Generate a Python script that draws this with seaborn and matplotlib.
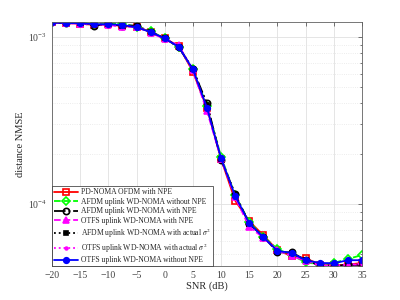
import numpy as np
import pandas as pd
import matplotlib
matplotlib.use('Agg')
import matplotlib.pyplot as plt
import seaborn as sns
from matplotlib.ticker import LogLocator, NullFormatter

# SNR 축 (dB)
snr = [-20, -17.5, -15, -12.5, -10, -7.5, -5, -2.5, 0, 2.5, 5, 7.5, 10,
       12.5, 15, 17.5, 20, 22.5, 25, 27.5, 30, 32.5, 35]

# 각 방식별 NMSE
pd_noma_npe = [1.22e-3, 1.21e-3, 1.20e-3, 1.18e-3, 1.19e-3, 1.16e-3, 1.15e-3, 1.07e-3, 0.98e-3,
               0.88e-3, 0.62e-3, 3.75e-4, 1.86e-4, 1.05e-4, 7.9e-5, 6.5e-5, 5.3e-5, 4.9e-5,
               4.75e-5, 4.35e-5, 4.3e-5, 4.35e-5, 4.45e-5]
afdm_wo_npe = [1.23e-3, 1.22e-3, 1.21e-3, 1.20e-3, 1.20e-3, 1.20e-3, 1.15e-3, 1.08e-3, 0.98e-3,
               0.87e-3, 0.64e-3, 3.85e-4, 1.92e-4, 1.13e-4, 7.8e-5, 6.4e-5, 5.38e-5, 4.95e-5,
               4.5e-5, 4.35e-5, 4.45e-5, 4.7e-5, 4.96e-5]
afdm_npe = [1.22e-3, 1.21e-3, 1.21e-3, 1.17e-3, 1.19e-3, 1.17e-3, 1.17e-3, 1.07e-3, 0.98e-3,
            0.87e-3, 0.64e-3, 4.0e-4, 1.84e-4, 1.15e-4, 7.6e-5, 6.4e-5, 5.16e-5, 5.15e-5,
            4.62e-5, 4.3e-5, 4.28e-5, 4.32e-5, 4.3e-5]
otfs_npe = [1.22e-3, 1.21e-3, 1.20e-3, 1.19e-3, 1.18e-3, 1.15e-3, 1.15e-3, 1.06e-3, 0.97e-3,
            0.89e-3, 0.63e-3, 3.6e-4, 1.87e-4, 1.1e-4, 7.3e-5, 6.3e-5, 5.3e-5, 4.88e-5,
            4.6e-5, 4.28e-5, 4.3e-5, 4.35e-5, 4.35e-5]
afdm_sigma = [1.22e-3, 1.21e-3, 1.21e-3, 1.18e-3, 1.19e-3, 1.17e-3, 1.16e-3, 1.07e-3, 0.98e-3,
              0.87e-3, 0.64e-3, 3.9e-4, 1.85e-4, 1.14e-4, 7.6e-5, 6.4e-5, 5.2e-5, 5.1e-5,
              4.62e-5, 4.3e-5, 4.3e-5, 4.35e-5, 4.35e-5]
otfs_sigma = [1.22e-3, 1.21e-3, 1.20e-3, 1.19e-3, 1.18e-3, 1.16e-3, 1.15e-3, 1.07e-3, 0.98e-3,
              0.88e-3, 0.63e-3, 3.7e-4, 1.87e-4, 1.11e-4, 7.5e-5, 6.35e-5, 5.25e-5, 5.0e-5,
              4.62e-5, 4.3e-5, 4.3e-5, 4.35e-5, 4.4e-5]
otfs_wo_npe = [1.22e-3, 1.21e-3, 1.21e-3, 1.19e-3, 1.19e-3, 1.18e-3, 1.14e-3, 1.07e-3, 0.98e-3,
               0.87e-3, 0.64e-3, 3.76e-4, 1.88e-4, 1.12e-4, 7.69e-5, 6.34e-5, 5.25e-5, 5.11e-5,
               4.62e-5, 4.45e-5, 4.43e-5, 4.62e-5, 4.62e-5]

labels = ['PD-NOMA OFDM with NPE',
          'AFDM uplink WD-NOMA without NPE',
          'AFDM uplink WD-NOMA with NPE',
          'OTFS uplink WD-NOMA with NPE',
          r'AFDM uplink WD-NOMA with actual $\sigma^2$',
          r'OTFS uplink WD-NOMA with actual $\sigma^2$',
          'OTFS uplink WD-NOMA without NPE']

sns.set_style('white')
plt.rcParams['font.family'] = ['Liberation Serif', 'DejaVu Serif']
plt.rcParams['mathtext.fontset'] = 'stix'

fig = plt.figure(figsize=(4, 3), dpi=100)
ax = fig.add_axes([0.13, 0.113, 0.775, 0.814])

# (데이터, 색, 선스타일, 마커, 마커면색, 마커크기, 선굵기)
styles = [
    (pd_noma_npe, '#ff0000', '-', 's', 'none', 4.5, 1.3),
    (afdm_wo_npe, '#00ff00', '--', 'D', 'none', 4.5, 1.3),
    (afdm_npe, 'black', '-.', 'o', 'none', 4.5, 1.3),
    (otfs_npe, '#ff00ff', '--', '^', '#ff00ff', 4.0, 1.3),
    (afdm_sigma, 'black', ':', 's', 'black', 3.0, 1.3),
    (otfs_sigma, '#ff00ff', ':', '.', '#ff00ff', 4.0, 1.3),
    (otfs_wo_npe, '#0000ff', '-', 'o', '#0000ff', 4.0, 1.3),
]

for (vals, col, ls, mk, mfc, ms, lw), lab in zip(styles, labels):
    df = pd.DataFrame({'snr': snr, 'nmse': vals})
    sns.lineplot(data=df, x='snr', y='nmse', ax=ax, color=col, linestyle=ls,
                 marker=mk, markerfacecolor=mfc, markeredgecolor=col,
                 markersize=ms, markeredgewidth=1.2, linewidth=lw, label=lab)

ax.set_yscale('log')
ax.set_xlim(-20, 35)
ax.set_ylim(4.26e-5, 1.23e-3)
ax.set_xticks(np.arange(-20, 36, 5))
ax.yaxis.set_major_locator(LogLocator(base=10))
ax.yaxis.set_minor_locator(LogLocator(base=10, subs=np.arange(2, 10)))
ax.yaxis.set_minor_formatter(NullFormatter())

ax.grid(True, which='major', color='#e0e0e0', linewidth=0.6)
ax.grid(True, which='minor', color='#e6e6e6', linestyle=':', linewidth=0.6)
ax.set_axisbelow(True)

ax.tick_params(which='both', direction='in', top=True, right=True,
               colors='#404040', labelsize=7, length=3, width=0.5)
ax.tick_params(which='minor', length=1.8)
for s in ax.spines.values():
    s.set_color('#606060')
    s.set_linewidth(0.6)

ax.set_xlabel('SNR (dB)', fontsize=7.5, color='#262626', labelpad=1)
ax.set_ylabel('distance NMSE', fontsize=7.5, color='#262626', labelpad=2)

leg = ax.legend(loc='lower left', fontsize=5.5, frameon=True, fancybox=False,
                framealpha=1, edgecolor='#262626', borderpad=0.25, labelspacing=0.2,
                handlelength=3.2, handletextpad=0.3, borderaxespad=0.0)
leg.get_frame().set_linewidth(0.5)

fig.savefig('out.png', dpi=100)
